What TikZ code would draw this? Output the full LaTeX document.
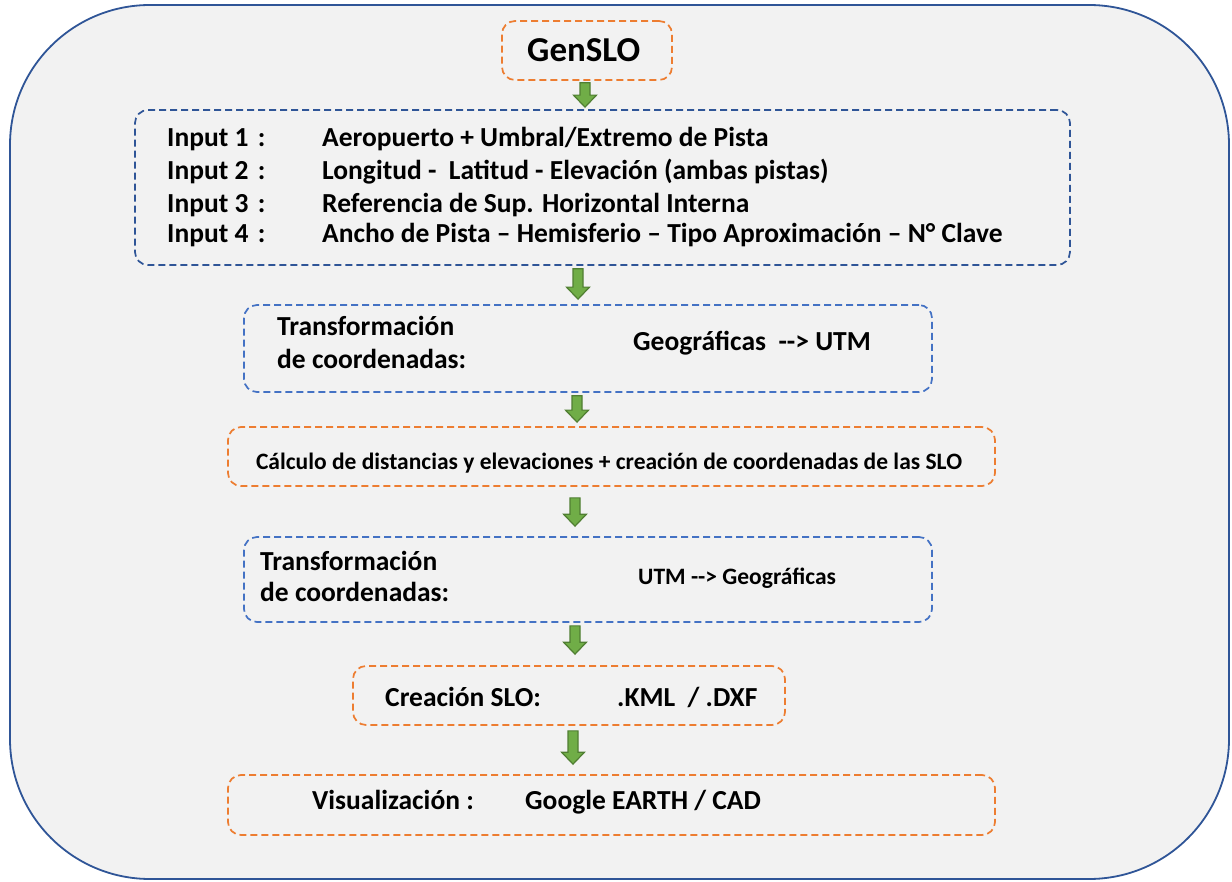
\documentclass[tikz,border=0pt]{standalone}
\usepackage{fontspec}
\setmainfont{Carlito}
\usetikzlibrary{calc}
\definecolor{bgray}{HTML}{F2F2F2}
\definecolor{oblue}{HTML}{2F5597}
\definecolor{lblue}{HTML}{4472C4}
\definecolor{orng}{HTML}{ED7D31}
\definecolor{gfill}{HTML}{70AD47}
\definecolor{gline}{HTML}{507E32}
\newcommand\garrow[5]{%
  \path[fill=gfill, draw=gline, line width=1.2pt] let \p1=(#2.south), \p2=(#3.north) in
  (#1pt-5pt,\y1-#4pt) -- (#1pt+5pt,\y1-#4pt) -- (#1pt+5pt,\y2+#5pt+12pt) -- (#1pt+11.5pt,\y2+#5pt+12pt)
  -- (#1pt,\y2+#5pt) -- (#1pt-11.5pt,\y2+#5pt+12pt) -- (#1pt-5pt,\y2+#5pt+12pt) -- cycle;}
\begin{document}
\begin{tikzpicture}[x=1pt,y=-1pt,
  dbox/.style={draw, line width=1.7pt, dash pattern=on 7pt off 4pt, rounded corners=13pt, inner sep=0pt},
  obox/.style={dbox, orng},
  bbox/.style={dbox, oblue},
  lbox/.style={dbox, lblue},
  txt/.style={font=\fontsize{27.5}{33}\selectfont\bfseries, inner sep=0pt, anchor=base west},
  stxt/.style={font=\fontsize{23.5}{28}\selectfont\bfseries, inner sep=0pt, anchor=base west}]
\useasboundingbox (0,0) rectangle (1232,882);
\draw[oblue, line width=1.8pt, fill=bgray, rounded corners=140pt] (10,5) rectangle (1229,879);

\node[obox, minimum width=170pt, minimum height=59pt] (g) at (587,50.5) {};
\node[bbox, minimum width=935pt, minimum height=155pt] (in) at (602.5,187.5) {};
\node[lbox, minimum width=688pt, minimum height=87pt] (t1) at (588,348.5) {};
\node[obox, minimum width=767pt, minimum height=59pt] (c) at (611.5,456.5) {};
\node[lbox, minimum width=688pt, minimum height=85pt] (t2) at (588,579.5) {};
\node[obox, minimum width=432pt, minimum height=59pt] (cr) at (569,695.5) {};
\node[obox, minimum width=767pt, minimum height=60pt] (v) at (611.5,805) {};

\node[txt, font=\fontsize{35}{40}\selectfont\bfseries] (gt) at (527,62) {GenSLO};

\node[txt] (i1) at (167,147) {Input 1\hspace{3pt} :};
\node[txt] (i2) at (167,180) {Input 2\hspace{3pt} :};
\node[txt] (i3) at (167,213) {Input 3\hspace{3pt} :};
\node[txt] (i4) at (167,243) {Input 4\hspace{3pt} :};
\node[txt] (v1) at (322,147) {Aeropuerto + Umbral/Extremo de Pista};
\node[txt] (v2) at (322,180) {Longitud -\ \ Latitud - Elevación (ambas pistas)};
\node[txt] (v3) at (322,213) {Referencia de Sup. Horizontal Interna};
\node[txt] (v4) at (322,243) {Ancho de Pista – Hemisferio – Tipo Aproximación – N° Clave};

\node[txt] (t1a) at (277,336) {Transformación};
\node[txt] (t1b) at (277,369) {de coordenadas:};
\node[txt] (t1c) at (633,351) {Geográficas\ \ -{}-> UTM};

\node[stxt, anchor=base] (ct) at (609,469) {Cálculo de distancias y elevaciones + creación de coordenadas de las SLO};

\node[txt] (t2a) at (260,570) {Transformación};
\node[txt] (t2b) at (260,601) {de coordenadas:};
\node[stxt] (t2c) at (638,584) {UTM -{}-> Geográficas};

\node[txt] (cra) at (385,706) {Creación SLO:};
\node[txt] (crb) at (617,706) {.KML\ \ / .DXF};

\node[txt] (va) at (312,809) {Visualización :};
\node[txt] (vb) at (525,809) {Google EARTH / CAD};

\garrow{585}{g}{in}{2}{2}
\garrow{578}{in}{t1}{3}{5}
\garrow{577}{t1}{c}{3}{4}
\garrow{575}{c}{t2}{11}{10}
\garrow{575}{t2}{cr}{3}{11}
\garrow{573}{cr}{v}{5}{10}
\end{tikzpicture}
\end{document}
